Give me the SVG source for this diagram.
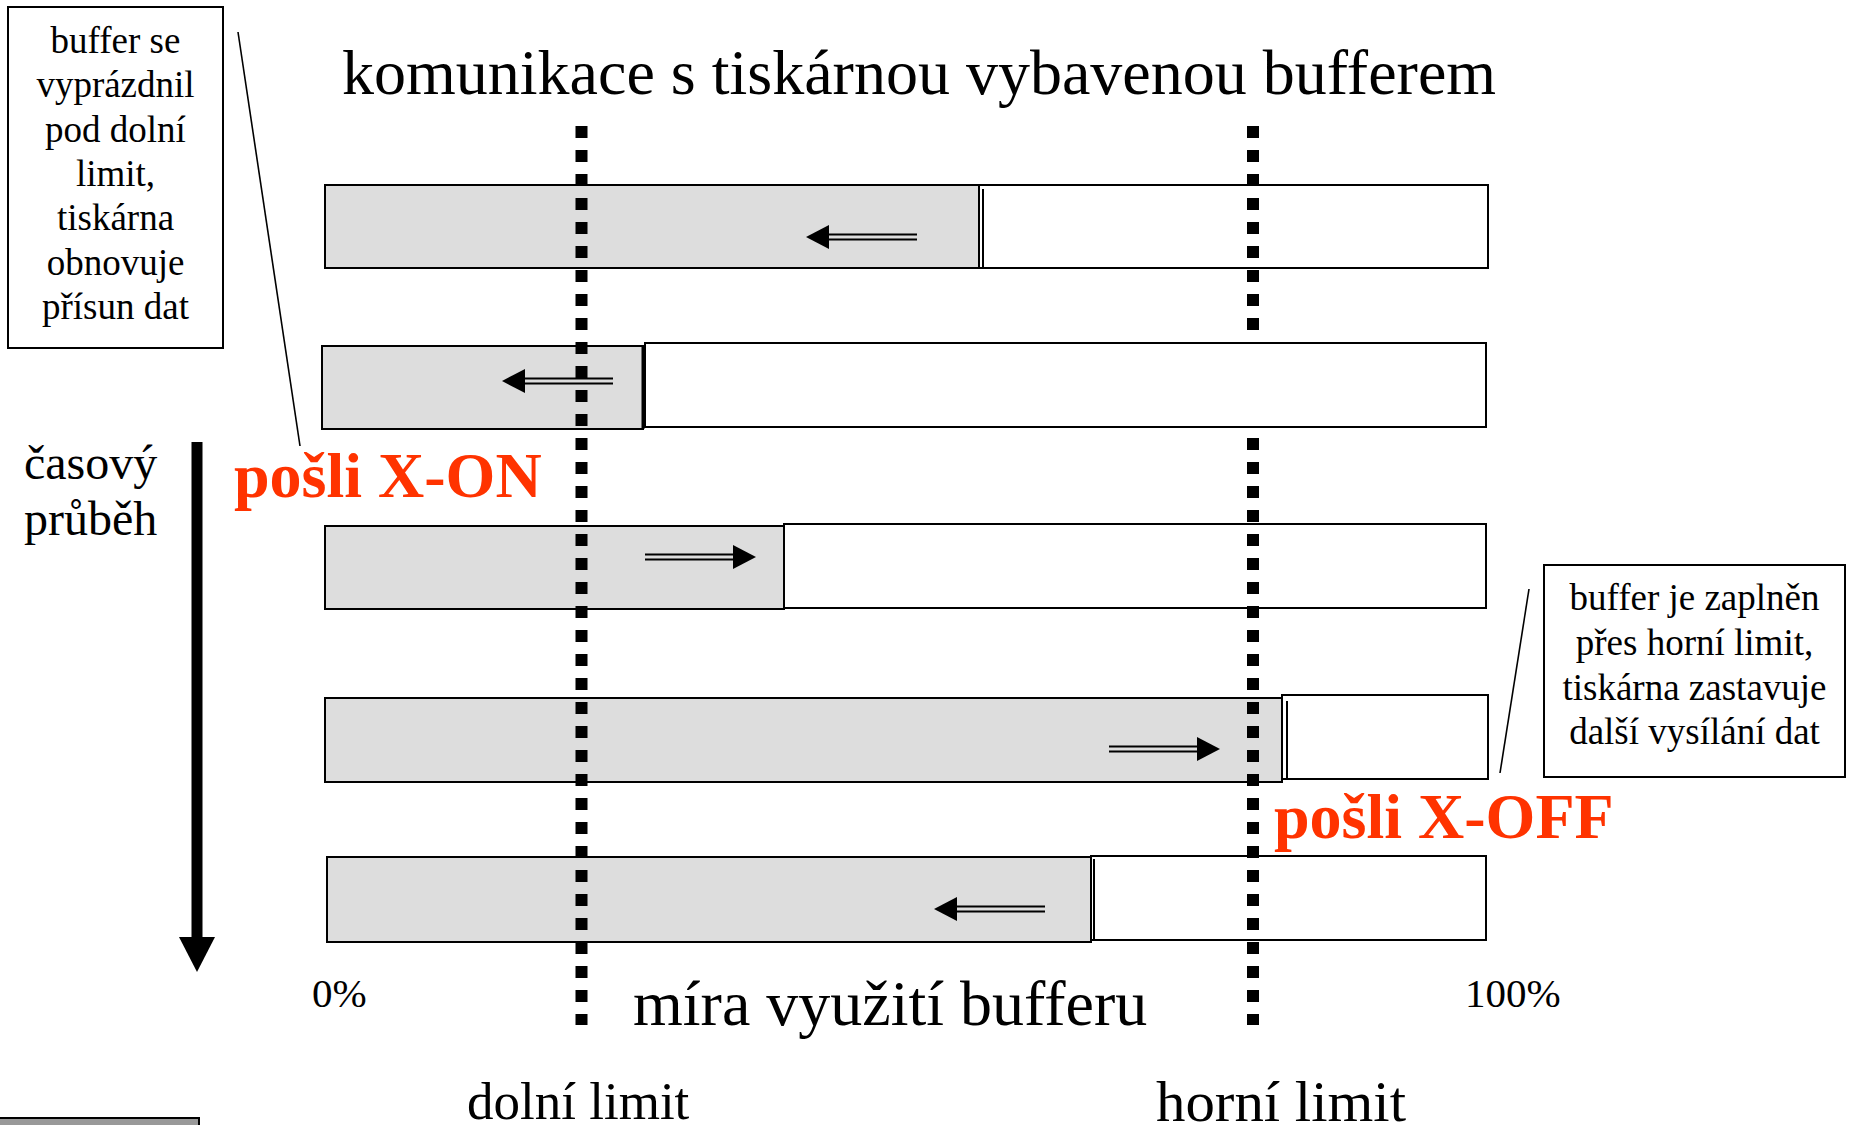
<svg xmlns="http://www.w3.org/2000/svg" xmlns:xlink="http://www.w3.org/1999/xlink" width="1858" height="1125" viewBox="0 0 1858 1125">
<style>
.grey{fill:#DDDDDD;stroke:#000;stroke-width:2}
.white{fill:#FFFFFF;stroke:#000;stroke-width:2}
.box{fill:#FFFFFF;stroke:#000;stroke-width:2}
.sep{stroke:#000;stroke-width:2}
.dots{stroke:#000;stroke-width:12;stroke-dasharray:12 12;fill:none}
.lead{stroke:#000;stroke-width:1.6;fill:none}
.t{font-family:"Liberation Serif","Times New Roman",serif;fill:#000}
.red{font-family:"Liberation Serif","Times New Roman",serif;font-weight:bold;fill:#FF3300;font-size:64px}
.note{font-size:37px;text-anchor:middle}
</style>
<defs>
<g id="arrL">
<polygon points="0,0 23,-12 23,12" fill="#000"/>
<line x1="20" y1="-2.6" x2="111" y2="-2.6" stroke="#000" stroke-width="2"/>
<line x1="20" y1="2.6" x2="111" y2="2.6" stroke="#000" stroke-width="2"/>
</g>
</defs>
<rect width="1858" height="1125" fill="#FFFFFF"/>

<g id="title">
<text class="t" x="342" y="94" font-size="64">komunikace s tiskárnou vybavenou bufferem</text>
</g>

<g id="bar1">
<rect class="grey" x="325" y="185" width="654" height="83"/>
<rect class="white" x="979" y="185" width="509" height="83"/>
<line class="sep" x1="983" y1="189" x2="983" y2="268"/>
</g>
<g id="bar2">
<rect class="grey" x="322" y="346" width="321" height="83"/>
<rect class="white" x="645" y="343" width="841" height="84"/>
<line x1="643" y1="346" x2="643" y2="429" stroke="#000" stroke-width="3"/>
</g>
<g id="bar3">
<rect class="grey" x="325" y="526" width="459" height="83"/>
<rect class="white" x="784" y="524" width="702" height="84"/>
</g>
<g id="bar4">
<rect class="grey" x="325" y="698" width="957" height="84"/>
<rect class="white" x="1282" y="695" width="206" height="84"/>
<line class="sep" x1="1287" y1="701" x2="1287" y2="780"/>
</g>
<g id="bar5">
<rect class="grey" x="327" y="857" width="764" height="85"/>
<rect class="white" x="1091" y="856" width="395" height="84"/>
<line class="sep" x1="1094" y1="859" x2="1094" y2="941"/>
</g>

<g id="limit-lower">
<line class="dots" x1="581.5" y1="126" x2="581.5" y2="1025"/>
</g>
<g id="limit-upper">
<line class="dots" x1="1253" y1="126" x2="1253" y2="343"/>
<line class="dots" x1="1253" y1="438" x2="1253" y2="1025"/>
</g>

<g id="note-left">
<rect class="box" x="8" y="7" width="215" height="341"/>
<text class="t note" x="115.5" y="53">buffer se</text>
<text class="t note" x="115.5" y="97.3">vyprázdnil</text>
<text class="t note" x="115.5" y="141.6">pod dolní</text>
<text class="t note" x="115.5" y="185.9">limit,</text>
<text class="t note" x="115.5" y="230.2">tiskárna</text>
<text class="t note" x="115.5" y="274.5">obnovuje</text>
<text class="t note" x="115.5" y="318.8">přísun dat</text>
</g>

<g id="note-right">
<rect class="box" x="1544" y="565" width="301" height="212"/>
<text class="t note" x="1694.5" y="610">buffer je zaplněn</text>
<text class="t note" x="1694.5" y="655">přes horní limit,</text>
<text class="t note" x="1694.5" y="700">tiskárna zastavuje</text>
<text class="t note" x="1694.5" y="744">další vysílání dat</text>
</g>

<g id="label-xon">
<text class="red" x="234" y="497">pošli X-ON</text>
</g>
<g id="label-xoff">
<text class="red" x="1274" y="838">pošli X-OFF</text>
</g>

<g id="time-axis">
<text class="t" x="24" y="479" font-size="48">časový</text>
<text class="t" x="24" y="535" font-size="48">průběh</text>
<rect x="191.5" y="442" width="11" height="497" fill="#000"/>
<polygon points="179,937 215,937 197,972" fill="#000"/>
</g>

<g id="axis-labels">
<text class="t" x="312" y="1007" font-size="41">0%</text>
<text class="t" x="1465" y="1007" font-size="41">100%</text>
<text class="t" x="633" y="1025" font-size="64">míra využití bufferu</text>
<text class="t" x="467" y="1119" font-size="53">dolní limit</text>
<text class="t" x="1156" y="1121" font-size="57" textLength="250" lengthAdjust="spacingAndGlyphs">horní limit</text>
</g>

<g id="corner-shape">
<rect x="-2" y="1118" width="201" height="20" fill="#999999" stroke="#000" stroke-width="2"/>
</g>

<g id="connectors">
<line class="lead" x1="238" y1="32" x2="300" y2="446"/>
<line class="lead" x1="1529" y1="589" x2="1500" y2="773"/>
<use xlink:href="#arrL" transform="translate(806,237)"/>
<use xlink:href="#arrL" transform="translate(502,381)"/>
<use xlink:href="#arrL" transform="translate(756,557) scale(-1,1)"/>
<use xlink:href="#arrL" transform="translate(1220,749) scale(-1,1)"/>
<use xlink:href="#arrL" transform="translate(934,909)"/>
</g>
</svg>
